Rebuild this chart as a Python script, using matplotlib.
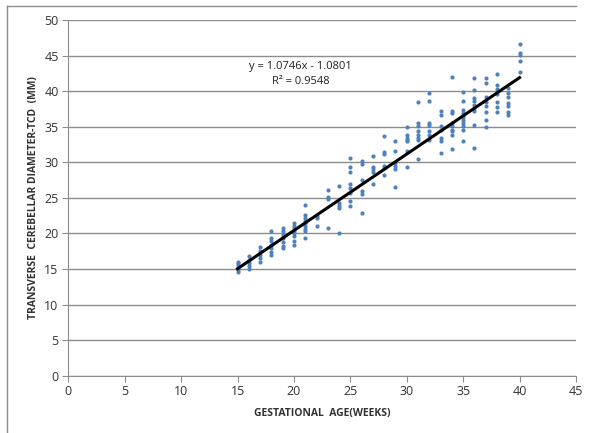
import numpy as np
import matplotlib.pyplot as plt
from matplotlib.lines import Line2D

weeks = list(range(15, 41))
tcd = [
    [14.6, 14.9, 15.2, 15.5, 15.8, 16.0],                        # 15
    [15.0, 15.4, 15.9, 16.3, 16.8],                              # 16
    [16.0, 16.5, 17.0, 17.5, 18.1],                              # 17
    [17.0, 17.4, 17.9, 18.4, 18.9, 19.4, 20.3],                  # 18
    [17.9, 18.3, 18.8, 19.3, 19.8, 20.3, 20.7],                  # 19
    [18.4, 19.0, 19.6, 20.0, 20.4, 20.8, 21.1, 21.4],            # 20
    [19.3, 20.3, 20.6, 21.0, 21.4, 21.8, 22.2, 22.6, 24.0],      # 21
    [21.1, 22.1, 22.4],                                          # 22
    [20.8, 24.9, 25.1, 26.1],                                    # 23
    [20.0, 23.6, 23.8, 24.3, 26.7],                              # 24
    [23.8, 24.5, 25.7, 26.4, 26.9, 28.7, 29.4, 30.6],            # 25
    [22.9, 25.5, 25.9, 27.5, 29.7, 30.2],                        # 26
    [27.0, 28.7, 29.0, 29.4, 30.9],                              # 27
    [28.2, 29.2, 29.5, 31.2, 31.5, 33.7],                        # 28
    [26.5, 29.0, 29.5, 29.9, 31.6, 33.0],                        # 29
    [29.4, 31.6, 33.0, 33.2, 33.4, 33.9, 35.0],                  # 30
    [30.5, 33.2, 33.4, 33.9, 34.4, 35.1, 35.5, 38.5],            # 31
    [33.2, 33.9, 34.4, 35.3, 35.5, 38.6, 39.7],                  # 32
    [31.3, 33.0, 33.4, 34.6, 35.1, 36.7, 37.2],                  # 33
    [31.8, 33.8, 34.4, 34.6, 35.1, 35.5, 36.9, 37.2, 42.0],      # 34
    [33.0, 34.6, 35.1, 35.5, 36.0, 36.4, 36.9, 37.4, 38.6, 39.9],  # 35
    [32.0, 35.3, 37.2, 37.6, 38.1, 38.6, 39.1, 40.2, 41.8],      # 36
    [35.0, 36.0, 37.1, 37.9, 38.5, 39.2, 41.1, 41.8],            # 37
    [37.1, 37.8, 38.5, 39.6, 40.3, 40.9, 42.4],                  # 38
    [36.7, 37.1, 37.9, 38.3, 39.2, 39.7, 40.4],                  # 39
    [42.7, 44.3, 45.1, 45.4, 46.6],                              # 40
]
slope = 1.0746
intercept = -1.0801
r2 = 0.9548

x_pts = []
y_pts = []
for w, vals in zip(weeks, tcd):
    x_pts += [w] * len(vals)
    y_pts += vals

fig = plt.figure(figsize=(5.91, 4.33), dpi=100)
ax = fig.add_axes([0.1156, 0.1323, 0.8590, 0.8215])

ax.scatter(x_pts, y_pts, s=9, color="#4F81BD", zorder=3, linewidths=0)
xl = np.array([min(weeks), max(weeks)])
ax.plot(xl, slope * xl + intercept, color="black", lw=2.2, zorder=4)

ax.set_xlim(0, 45)
ax.set_ylim(0, 50)
ax.set_xticks(range(0, 46, 5))
ax.set_yticks(range(0, 51, 5))
ax.yaxis.grid(True, color="#8c8c8c", lw=1)
ax.set_axisbelow(True)
for s in ["top", "right"]:
    ax.spines[s].set_visible(False)
for s in ["left", "bottom"]:
    ax.spines[s].set_color("#8c8c8c")
ax.tick_params(direction="out", length=4, color="#8c8c8c",
               labelsize=9, labelcolor="#333333", pad=3)
for lab in ax.get_xticklabels() + ax.get_yticklabels():
    lab.set_family("Open Sans")

ax.set_xlabel("GESTATIONAL  AGE(WEEKS)", fontsize=7.5, fontweight="bold",
              color="#333333", family="Open Sans", labelpad=7)
ax.set_ylabel("TRANSVERSE  CEREBELLAR DIAMETER-TCD  (MM)", fontsize=7.5,
              fontweight="bold", color="#333333", family="Open Sans", labelpad=4)

ax.text(20.6, 43.5, "y = 1.0746x - 1.0801", fontsize=8, ha="center",
        va="center", color="#222222", family="Open Sans")
ax.text(20.6, 41.3, "R² = %.4f" % r2, fontsize=8, ha="center",
        va="center", color="#222222", family="Open Sans")

# chart frame edges
fig.add_artist(Line2D([7 / 591, 7 / 591], [0, 1 - 6 / 433], color="#8c8c8c", lw=1))
fig.add_artist(Line2D([7 / 591, 576 / 591], [1 - 6 / 433, 1 - 6 / 433], color="#8c8c8c", lw=1))

fig.savefig("out.png", dpi=100)
